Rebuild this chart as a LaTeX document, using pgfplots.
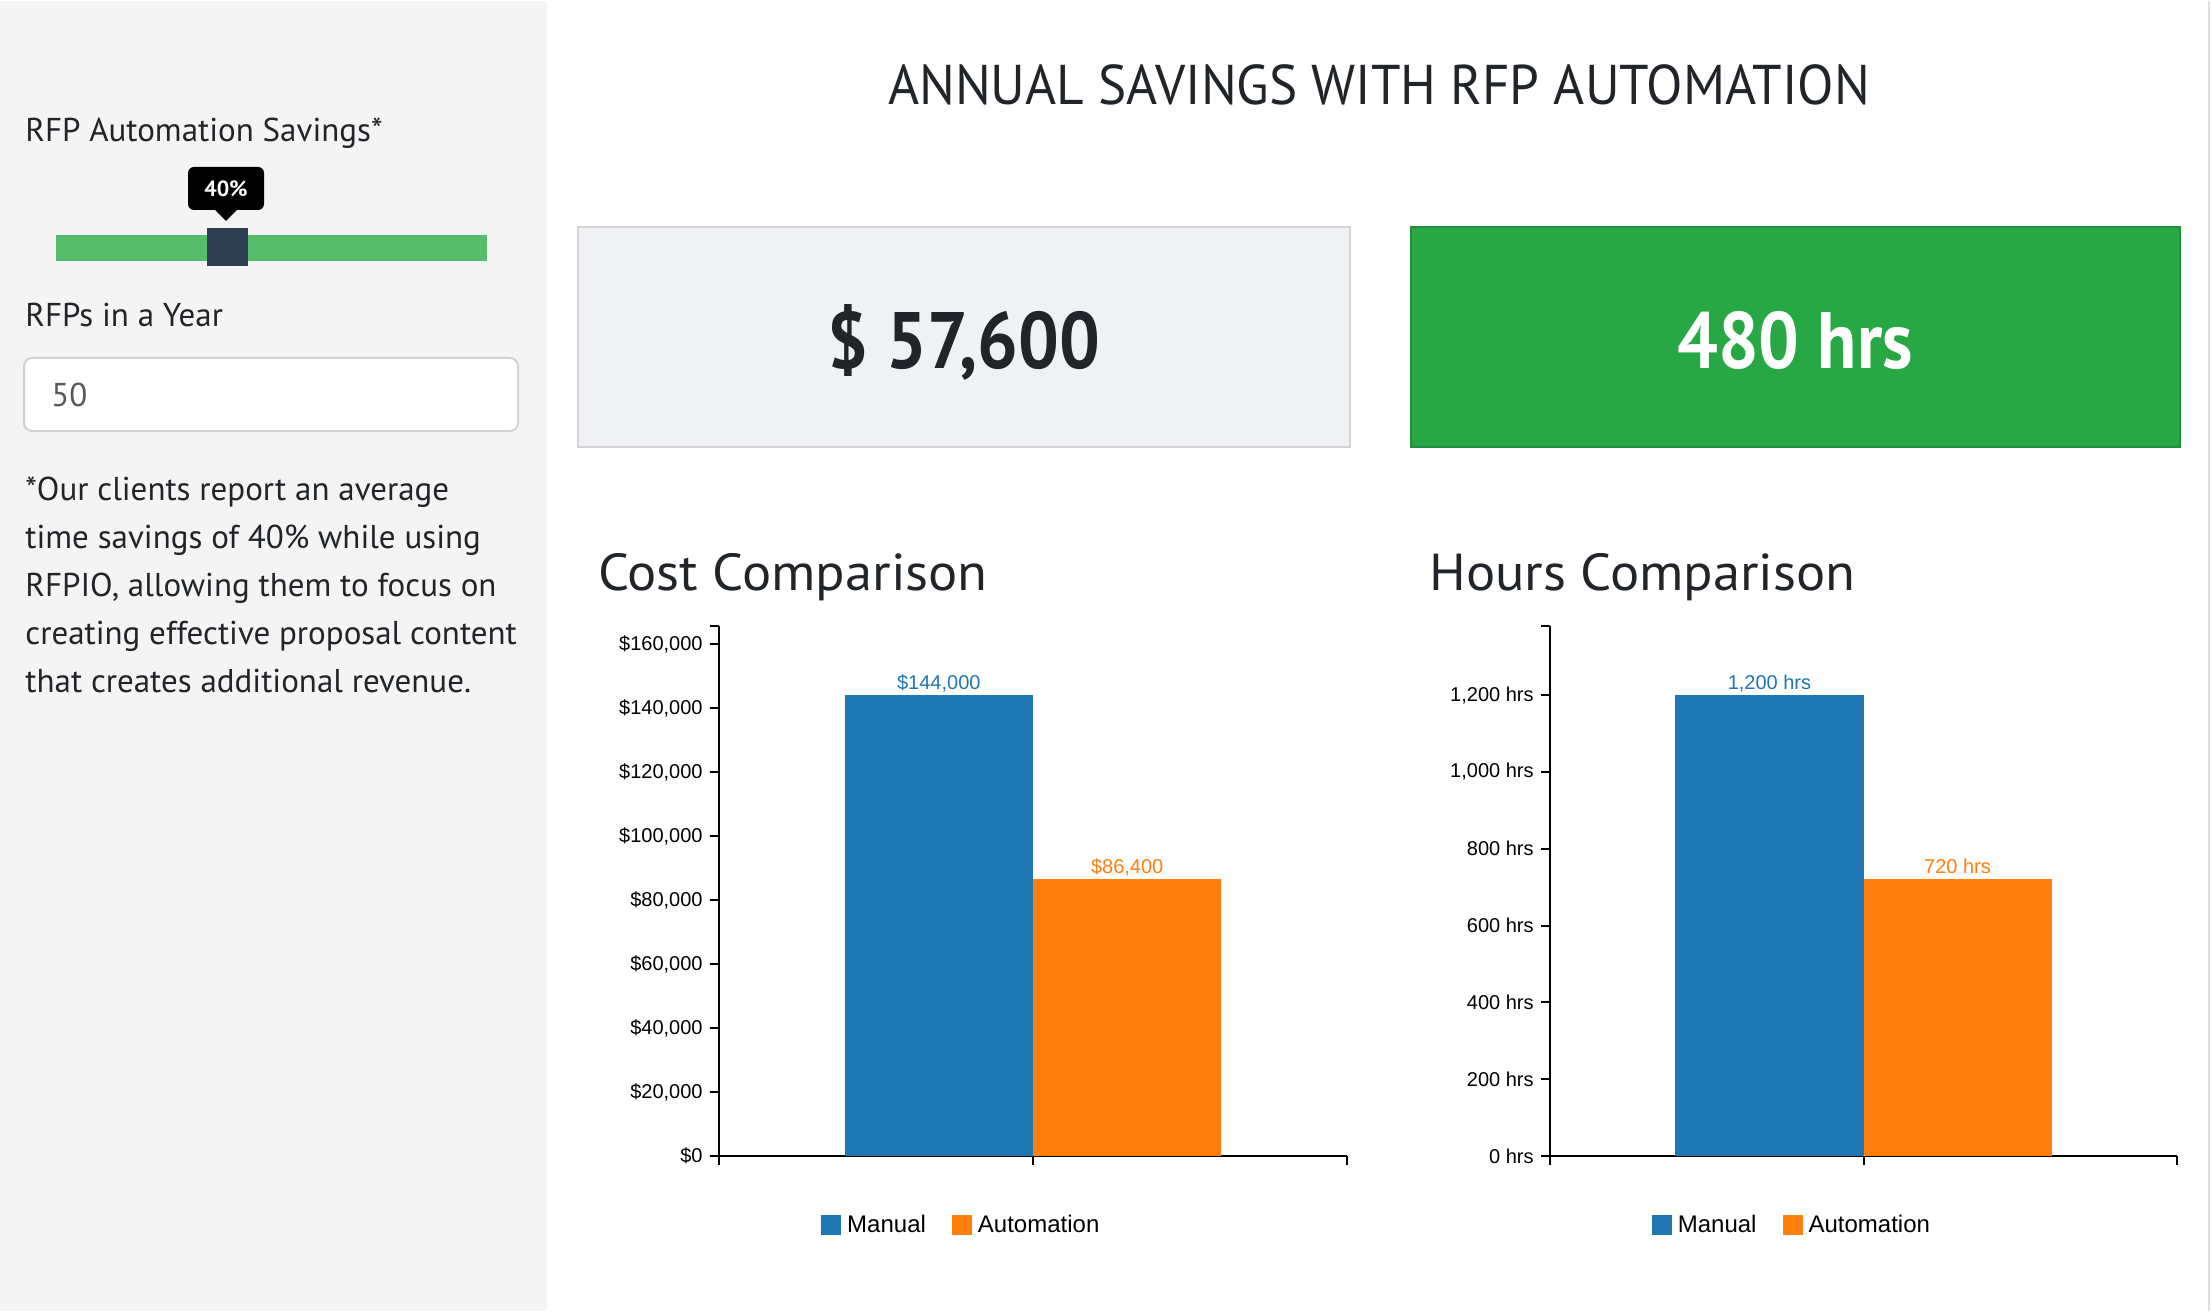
\documentclass[border=0pt]{standalone}
\usepackage{fontspec}
\usepackage{pgfplots}
\pgfplotsset{compat=1.18}
\setmainfont{PT Sans}
\newfontfamily\uifont[FakeStretch=1.0]{PT Sans}
\newfontfamily\titlefont[FakeStretch=0.95]{PT Sans}
\newfontfamily\headfont[FakeStretch=1.05]{PT Sans}
\newfontfamily\numfont[FakeStretch=0.9]{PT Sans}
\newfontfamily\chartfont{Liberation Sans}
\newcommand{\fs}[1]{\fontsize{#1}{#1}\selectfont}

\definecolor{manual}{HTML}{1F77B4}
\definecolor{auto}{HTML}{FF7F0E}
\definecolor{side}{HTML}{F4F4F4}
\definecolor{ink}{HTML}{212529}
\definecolor{track}{HTML}{55BD6B}
\definecolor{knob}{HTML}{2C3E50}
\definecolor{panel}{HTML}{F0F1F5}
\definecolor{okgreen}{HTML}{28A745}

% shared look of the two bar charts
\pgfplotsset{
  cmp/.style={
    anchor=south west, scale only axis, height=265pt,
    xmin=-0.5, xmax=0.5, ymin=0,
    axis lines*=left,
    axis line style={line width=1pt, black},
    xtick={-0.5,0,0.5}, xticklabels={},
    scaled y ticks=false,
    tick align=outside, major tick length=4.5pt,
    tick style={line width=1pt, black},
    yticklabel style={font=\chartfont\fs{10}, inner sep=1.5pt, xshift=-2pt},
    ybar, bar width=0.3, bar shift=0pt,
    every node near coord/.append style={font=\chartfont\fs{10}, anchor=base, yshift=3pt},
    legend columns=2,
    legend image code/.code={\fill[##1] (0pt,-5pt) rectangle (10pt,5pt);},
    legend style={at={(0.389,-0.13)}, anchor=center, draw=none, fill=none,
      font=\chartfont\fs{12}, /tikz/every even column/.append style={column sep=10pt},
      nodes={inner xsep=3pt}},
  }
}

\begin{document}
\begin{tikzpicture}[x=0.5pt, y=0.5pt]
% page and sidebar
\fill[white] (0,0) rectangle (2212,1310);
\fill[side] (0,0) rectangle (547,1310);
\draw[gray!25, line width=1pt] (2209,0) -- (2209,1310);

% title
\node[anchor=base, inner sep=0pt, text=ink, font=\titlefont\fs{28}] at (1379,1206) {ANNUAL SAVINGS WITH RFP AUTOMATION};

% sidebar controls
\node[anchor=base west, inner sep=0pt, text=ink, font=\uifont\fs{16.5}] at (25,1169) {RFP Automation Savings*};
\fill[black, rounded corners=3pt] (188,1101) rectangle (264,1144);
\fill[black] (214,1102) -- (238,1102) -- (226,1090) -- cycle;
\node[text=white, font=\uifont\bfseries\fs{11}] at (226,1122) {40\%};
\fill[track] (56,1050) rectangle (487,1076);
\fill[knob] (207,1045) rectangle (248,1083);
\node[anchor=base west, inner sep=0pt, text=ink, font=\uifont\fs{16.5}] at (25,984) {RFPs in a Year};
\filldraw[fill=white, draw=black!18, line width=1pt, rounded corners=4pt] (24,880) rectangle (518,953);
\node[anchor=base west, inner sep=0pt, text=black!65, font=\uifont\fs{16.5}] at (51,904) {50};
\foreach \t [count=\i from 0] in {*Our clients report an average, time savings of 40\% while using,
  {RFPIO, allowing them to focus on}, creating effective proposal content, that creates additional revenue.}
  \node[anchor=base west, inner sep=0pt, text=ink, font=\uifont\fs{16.5}] at (25,810-48*\i) {\t};

% summary boxes
\filldraw[fill=panel, draw=black!17, line width=1pt] (578,864) rectangle (1350,1084);
\node[anchor=base, inner sep=0pt, text=ink, font=\numfont\bfseries\fs{40}] at (964,942) {\$ 57,600};
\filldraw[fill=okgreen, draw=okgreen!85!black, line width=1pt] (1411,864) rectangle (2180,1084);
\node[anchor=base, inner sep=0pt, text=white, font=\numfont\bfseries\fs{40}] at (1795,942) {480 hrs};

% chart headings
\node[anchor=base west, inner sep=0pt, text=ink, font=\headfont\fs{26}] at (598,720) {Cost Comparison};
\node[anchor=base west, inner sep=0pt, text=ink, font=\headfont\fs{26}] at (1429,720) {Hours Comparison};

\coordinate (cost) at (719,155);
\coordinate (hours) at (1550,155);

\begin{axis}[cmp, at={(cost)}, width=314pt, ymax=165600,
  ytick={0,20000,40000,60000,80000,100000,120000,140000,160000},
  yticklabels={\$0,{\$20,000},{\$40,000},{\$60,000},{\$80,000},{\$100,000},{\$120,000},{\$140,000},{\$160,000}},
  extra y ticks={165600}, extra y tick labels={}]
\addplot[fill=manual, draw=none, nodes near coords={\$144,000},
  every node near coord/.append style={text=manual}] coordinates {(-0.15,144000)};
\addplot[fill=auto, draw=none, nodes near coords={\$86,400},
  every node near coord/.append style={text=auto}] coordinates {(0.15,86400)};
\legend{Manual, Automation}
\end{axis}

\begin{axis}[cmp, at={(hours)}, width=313.5pt, ymax=1380,
  ytick={0,200,400,600,800,1000,1200},
  yticklabels={0 hrs,200 hrs,400 hrs,600 hrs,800 hrs,{1,000 hrs},{1,200 hrs}},
  extra y ticks={1380}, extra y tick labels={}]
\addplot[fill=manual, draw=none, nodes near coords={1,200 hrs},
  every node near coord/.append style={text=manual}] coordinates {(-0.15,1200)};
\addplot[fill=auto, draw=none, nodes near coords={720 hrs},
  every node near coord/.append style={text=auto}] coordinates {(0.15,720)};
\legend{Manual, Automation}
\end{axis}
\end{tikzpicture}
\end{document}
